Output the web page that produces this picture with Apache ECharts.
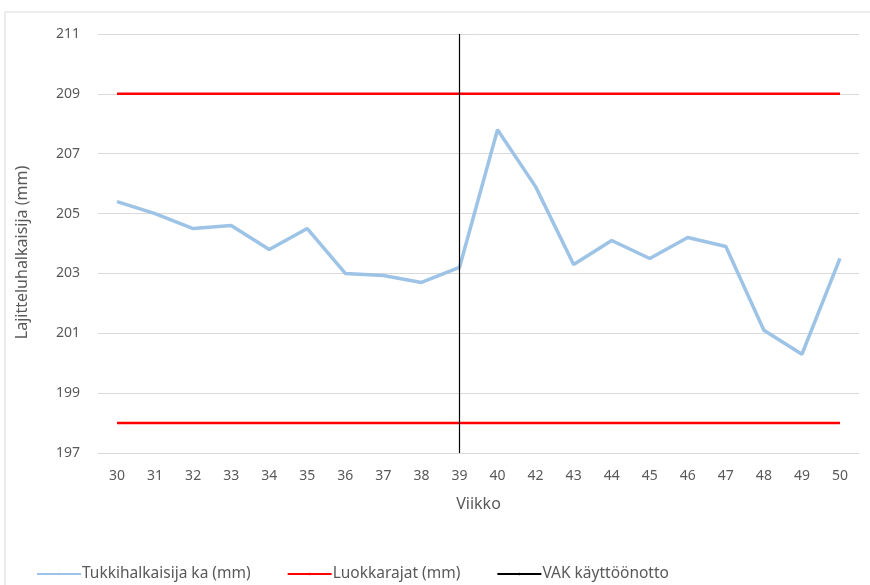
<!DOCTYPE html>
<html><head><meta charset="utf-8">
<script src="https://cdn.jsdelivr.net/npm/echarts@6/dist/echarts.min.js"></script>
<style>html,body{margin:0;padding:0;background:#fff}#c{width:870px;height:585px}</style>
</head><body><div id="c"></div>
<script>
const weeks = ['30','31','32','33','34','35','36','37','38','39','40','42','43','44','45','46','47','48','49','50'];
const diameter = [205.4,205.0,204.5,204.6,203.8,204.5,203.0,202.93,202.7,203.2,207.8,205.9,203.3,204.1,203.5,204.2,203.9,201.1,200.3,203.5];
const upperLimit = 209;
const lowerLimit = 198;
const vakWeek = '39';
const yTicks = {min:197, max:211, interval:2};

const font = 'Noto Sans';
const chart = echarts.init(document.getElementById('c'));
chart.setOption({
  animation:false,
  backgroundColor:'#fff',
  graphic:[{type:'rect',shape:{x:5,y:12,width:880,height:600},style:{fill:'none',stroke:'#d9d9d9',lineWidth:1},silent:true}],
  grid:{left:98,right:11,top:34,bottom:132},
  legend:{
    bottom:-2,left:31,itemWidth:44,itemHeight:3,itemGap:36,
    textStyle:{fontFamily:font,fontSize:15.5,color:'#595959',padding:[0,0,0,-4]},
    data:['Tukkihalkaisija ka (mm)','Luokkarajat (mm)','VAK käyttöönotto']
  },
  xAxis:{
    type:'category',data:weeks,boundaryGap:true,
    name:'Viikko',nameLocation:'middle',nameGap:43,
    nameTextStyle:{fontFamily:font,fontSize:16,color:'#595959'},
    axisLine:{show:true,lineStyle:{color:'#d9d9d9'}},
    axisTick:{show:false},
    axisLabel:{fontFamily:font,fontSize:14,color:'#595959',margin:16}
  },
  yAxis:{
    type:'value',min:yTicks.min,max:yTicks.max,interval:yTicks.interval,
    name:'Lajitteluhalkaisija (mm)',nameLocation:'middle',nameGap:68,
    nameTextStyle:{fontFamily:font,fontSize:16,color:'#595959',padding:[0,18,0,0]},
    axisLine:{show:false},axisTick:{show:false},
    splitLine:{lineStyle:{color:'#d9d9d9',width:1}},
    axisLabel:{fontFamily:font,fontSize:14,color:'#595959',margin:18}
  },
  series:[
    {name:'Tukkihalkaisija ka (mm)',type:'line',data:diameter,symbol:'none',
     lineStyle:{color:'#9dc3e6',width:3.5},itemStyle:{color:'#9dc3e6'},z:3},
    {name:'Luokkarajat (mm)',type:'line',data:weeks.map(()=>upperLimit),symbol:'none',
     lineStyle:{color:'#ff0000',width:2.5},itemStyle:{color:'#ff0000'},z:2},
    {name:'Luokkarajat (mm)',type:'line',data:weeks.map(()=>lowerLimit),symbol:'none',
     lineStyle:{color:'#ff0000',width:2.5},itemStyle:{color:'#ff0000'},z:2},
    {name:'VAK käyttöönotto',type:'line',data:[],symbol:'none',
     lineStyle:{color:'#000',width:1.5},itemStyle:{color:'#000'},
     markLine:{silent:true,symbol:['none','none'],label:{show:false},
       lineStyle:{color:'#000',width:1.2,type:'solid'},
       data:[{xAxis:vakWeek}]},z:4}
  ]
});
</script></body></html>
